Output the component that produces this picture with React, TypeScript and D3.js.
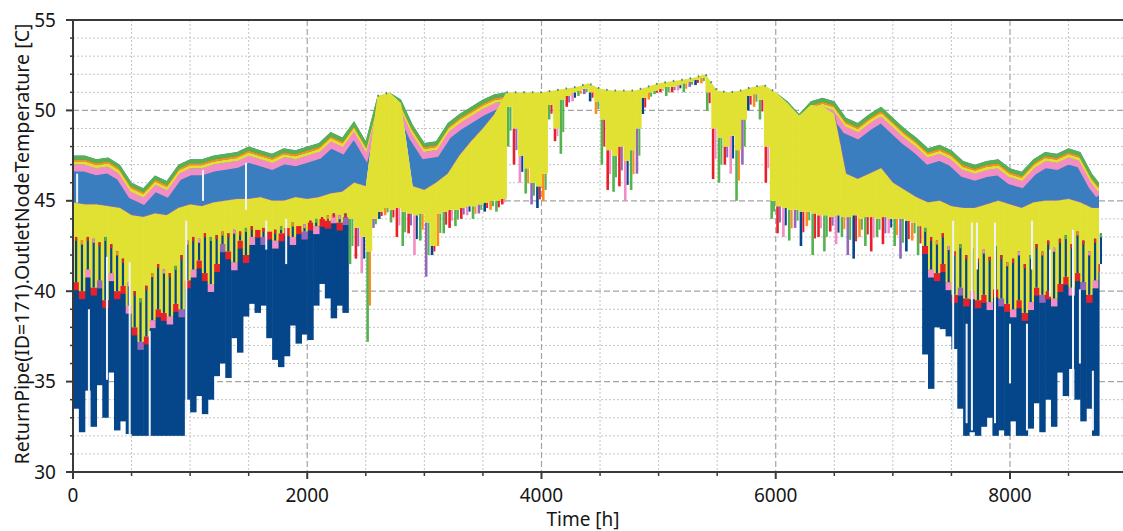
import React from 'react';
import * as d3 from 'd3';

// ---------------- data ----------------
const hours100 = [...d3.range(0, 8800, 100), 8760];
const topMax = [
  47.5, 47.5, 47.3, 47.4, 47.0, 46.0, 45.7, 46.4, 46.1, 47.0,
  47.3, 47.3, 47.5, 47.6, 47.7, 48.0, 47.8, 47.6, 47.9, 47.8,
  48.0, 48.2, 48.8, 48.5, 49.4, 48.3, 50.8, 51.0, 50.6, 49.2,
  48.2, 48.3, 49.3, 49.8, 50.2, 50.6, 50.9, 51.0, 51.0, 51.0,
  51.0, 51.1, 51.2, 51.3, 51.5, 51.2, 51.1, 51.1, 51.1, 51.3,
  51.5, 51.6, 51.7, 51.8, 52.0, 51.1, 51.0, 51.1, 51.3, 51.4,
  51.0, 50.5, 49.8, 50.5, 50.7, 50.5, 49.6, 49.3, 49.8, 50.2,
  49.6, 49.0, 48.5, 47.9, 48.1, 47.8, 47.2, 47.0, 47.2, 47.3,
  46.8, 46.6, 47.3, 47.7, 47.6, 47.9, 47.7, 46.5, 46.0,
];
const yellowTop = [
  44.9, 44.8, 44.8, 44.7, 44.6, 44.2, 44.1, 44.3, 44.2, 44.6,
  44.8, 44.7, 44.9, 45.0, 45.1, 45.1, 45.2, 45.0, 45.0, 45.2,
  45.1, 45.2, 45.4, 45.5, 46.0, 45.8, 50.8, 51.0, 50.4, 45.8,
  45.6, 46.0, 46.5, 47.5, 48.3, 49.0, 49.8, 51.0, 51.0, 51.0,
  51.0, 51.1, 51.2, 51.3, 51.5, 51.2, 51.1, 51.1, 51.1, 51.3,
  51.5, 51.6, 51.7, 51.8, 52.0, 51.1, 51.0, 51.1, 51.3, 51.4,
  51.0, 50.4, 49.7, 50.3, 50.2, 49.8, 46.5, 46.2, 46.5, 46.8,
  46.0, 45.6, 45.2, 44.9, 45.0, 44.7, 44.6, 44.6, 44.8, 45.0,
  44.8, 44.6, 44.9, 45.0, 45.0, 45.1, 44.9, 44.6, 44.6,
];

const hours50 = d3.range(0, 8800, 50);
const yellowBottom = [
  40.5, 40.0, 41.2, 40.2, 40.6, 39.5, 41.0, 40.0, 40.3, 39.2, 38.0, 37.2, 37.5, 38.4, 39.0, 38.8, 38.6, 39.3, 39.0, 40.6,
  41.2, 41.7, 41.0, 40.4, 41.5, 42.6, 42.2, 41.6, 42.8, 42.0, 43.0, 43.4, 43.0, 43.3, 42.8, 43.2, 43.5, 43.0, 43.6, 43.3,
  43.8, 43.6, 44.0, 43.9, 44.2, 43.8, 44.1, 44.0, 43.5, 43.0, 42.2, 44.0, 44.4, 44.6, 44.5, 44.6, 44.4, 44.3, 44.2, 44.3,
  43.8, 42.5, 44.3, 44.4, 44.5, 44.5, 44.6, 44.7, 44.7, 44.8, 44.9, 45.0, 45.0, 45.1, 50.2, 49.0, 47.5, 46.8, 46.0, 45.8,
  46.5, 50.3, 49.0, 50.6, 50.8, 51.0, 51.1, 51.2, 51.0, 50.5, 49.5, 47.8, 47.5, 48.0, 47.2, 47.8, 49.0, 50.7, 51.0, 51.1,
  51.2, 51.3, 51.3, 51.4, 51.5, 51.6, 51.7, 51.8, 51.0, 49.0, 48.5, 48.0, 48.6, 47.8, 49.5, 50.8, 50.9, 50.6, 48.0, 45.0,
  44.7, 44.6, 44.5, 44.5, 44.4, 44.4, 44.3, 44.2, 44.2, 44.1, 44.2, 44.1, 44.1, 44.2, 44.0, 44.1, 44.1, 44.0, 44.1, 44.0,
  44.0, 44.0, 43.9, 43.8, 43.6, 42.5, 41.2, 41.0, 41.5, 40.5, 39.8, 40.2, 39.6, 40.0, 39.5, 39.8, 39.4, 40.1, 39.6, 39.3,
  39.0, 39.5, 38.8, 39.4, 40.2, 39.8, 40.0, 39.6, 40.4, 40.8, 40.2, 41.0, 40.5, 39.8, 40.6, 41.5,
];

const blueLowHours = [...d3.range(0, 2350, 50), ...d3.range(7250, 8800, 50)];
const blueLow = [
  33.5, 32.2, 34.5, 32.5, 34.8, 33.0, 35.5, 32.3, 32.8, 32.1,
  32.0, 32.0, 32.0, 32.0, 32.0, 32.0, 32.0, 32.0, 32.0, 34.0,
  33.3, 34.2, 33.2, 34.0, 35.3, 36.0, 35.2, 37.4, 36.6, 38.6,
  39.3, 38.8, 39.2, 37.4, 36.2, 35.8, 36.4, 38.1, 37.1, 37.6,
  37.3, 39.2, 40.4, 39.6, 38.5, 39.2, 38.8,
  36.5, 34.6, 38.0, 37.9, 37.5, 36.8, 33.5, 32.0, 32.2, 32.0,
  32.5, 33.0, 32.0, 32.3, 32.0, 32.8, 32.0, 32.0, 32.4, 33.8,
  32.2, 34.0, 32.5, 35.5, 34.2, 35.7, 34.0, 32.8, 33.5, 32.0, 32.0,
];
// tops of the dark-blue streaks that rise into the yellow band in winter
const streakTop = [
  43.0, 42.8, 43.0, 42.9, 42.7, 43.0, 42.6, 42.2, 41.8, 40.5,
  40.0, 39.6, 40.3, 41.0, 41.5, 41.2, 41.0, 41.4, 42.0, 42.8,
  43.0, 42.9, 43.2, 43.0, 43.1, 43.3, 43.2, 43.4, 43.3, 43.5,
  43.6, 43.4, 43.5, 43.2, 43.4, 43.6, 43.5, 43.8, 43.6, 43.7,
  43.9, 44.0, 44.1, 44.2, 44.3, 44.2, 44.3,
  43.5, 43.0, 42.8, 43.2, 42.5, 42.2, 42.6, 42.0, 42.4, 41.8,
  42.3, 41.9, 42.5, 42.0, 41.6, 41.8, 42.2, 41.5, 42.0, 42.6,
  42.2, 42.8, 42.4, 42.9, 43.1, 42.6, 43.3, 42.8, 42.2, 42.9, 43.2,
];

const spikeHours = d3.range(2350, 7250, 50);
const spikeLow = [
  41.5, 41.8, 41.0, 37.2, 43.5, 44.0, 44.2, 43.8, 43.0, 42.5,
  43.2, 42.0, 42.8, 40.8, 42.0, 42.5, 43.2, 43.5, 43.6, 44.0,
  44.2, 44.0, 44.3, 44.4, 44.5, 44.4, 44.8, 48.0, 47.0, 46.0,
  45.4, 44.8, 44.6, 45.0, 49.5, 48.3, 47.6, 50.2, 50.5, 50.8,
  50.9, 50.5, 49.8, 47.0, 45.6, 45.5, 45.8, 45.0, 45.6, 46.5,
  49.8, 50.6, 50.9, 51.0, 50.8, 51.0, 51.1, 51.0, 51.3, 51.4,
  51.5, 50.0, 46.2, 46.0, 47.0, 46.5, 45.0, 47.0, 50.0, 50.2,
  49.5, 46.0, 44.0, 43.2, 43.0, 42.8, 43.5, 42.5, 43.6, 42.0,
  43.0, 42.2, 43.3, 42.6, 43.0, 42.0, 41.8, 43.0, 42.5, 42.2,
  43.0, 42.6, 43.2, 42.5, 41.8, 42.2, 42.8, 42.0,
];

const lightT = [35, 136, 290, 484, 655, 967, 1110, 1477, 1650, 1820, 7515, 7630, 7675, 7718, 7872, 8000, 8145, 8188, 8342, 8538, 8597, 8708];
const lightLo = [44.9, 32.5, 35.1, 32.0, 32.0, 32.9, 45.0, 44.5, 42.3, 41.5, 32.9, 32.7, 32.3, 41.2, 32.7, 34.9, 32.3, 41.2, 39.7, 34.2, 36.0, 32.3];
const lightHi = [46.5, 39.0, 41.9, 41.6, 37.8, 43.9, 46.7, 47.1, 43.9, 44.0, 43.9, 38.2, 43.8, 43.8, 43.8, 38.2, 38.2, 43.9, 42.3, 43.4, 40.1, 35.6];

const xTicks = [0, 2000, 4000, 6000, 8000];
const yTicks = [30, 35, 40, 45, 50, 55];
const xTitle = 'Time [h]';
const yTitle = 'ReturnPipe(ID=171).OutletNodeTemperature [C]';

// ---------------- styles ----------------
const W = 1123;
const H = 531;
const PL = 73, PR = 1123, PT = 20, PB = 472;
const C = {
  navy: '#05468a',
  steel: '#3b7ec0',
  yellow: '#e1e133',
  pink: '#f28dc6',
  red: '#e8202a',
  orange: '#ff8c1a',
  green: '#55b24f',
  purple: '#9467bd',
  light: '#eef3fa',
};
const spikeColors = [C.green, C.red, C.pink, C.green, C.purple, C.navy, C.orange, C.green, C.red];
const bandColors = [C.red, C.red, C.pink, C.red, C.purple, C.red, C.pink];
const tipColors = [C.red, C.orange, C.red, C.pink, C.red, C.green];
const FONT = '"Noto Sans", "Open Sans", sans-serif';
const END = 8760;

export default function App() {
  const x = d3.scaleLinear().domain([0, 8965]).range([PL, PR]);
  const y = d3.scaleLinear().domain([30, 55]).range([PB, PT]);

  const idx50 = new Map(hours50.map((t, i) => [t, i]));
  const xEnd = (t: number) => x(Math.min(t + 50, END)) + 0.6;

  const steelArea = d3
    .area<number>()
    .x((_, i) => x(hours100[i]))
    .y0((_, i) => y(yellowTop[i]))
    .y1((_, i) => y(topMax[i]));
  const yellowClip = d3
    .area<number>()
    .x((_, i) => x(hours100[i]))
    .y0(PB + 5)
    .y1((_, i) => y(yellowTop[i]));
  const topLine = d3
    .line<number>()
    .x((_, i) => x(hours100[i]))
    .y((_, i) => y(topMax[i]));
  const yTopLine = d3
    .line<number>()
    .defined((_, i) => topMax[i] - yellowTop[i] > 0.6)
    .x((_, i) => x(hours100[i]))
    .y((_, i) => y(yellowTop[i]));
  const summerTop = d3
    .line<number>()
    .defined((_, i) => topMax[i] - yellowTop[i] < 0.05)
    .x((_, i) => x(hours100[i]))
    .y((_, i) => y(topMax[i]));

  const minorX = d3.range(500, 9000, 500).filter((v) => v % 2000 !== 0 && x(v) <= PR);
  const minorY = d3.range(31, 55, 1).filter((v) => v % 5 !== 0);

  const bands = [
    { c: C.pink, w: 7, dy: 12.5 },
    { c: C.yellow, w: 3, dy: 7.5 },
    { c: C.orange, w: 2, dy: 5 },
    { c: C.green, w: 4, dy: 2 },
  ];

  return (
    <svg
      width={W}
      height={H}
      style={{ position: 'absolute', left: 0, top: 0, display: 'block', background: '#fff' }}
      fontFamily={FONT}
    >
      <defs>
        <clipPath id="plot">
          <rect x={PL} y={PT} width={PR - PL} height={PB - PT} />
        </clipPath>
        <clipPath id="steel">
          <path d={steelArea(topMax) || ''} />
        </clipPath>
        <clipPath id="yel">
          <path d={yellowClip(yellowTop) || ''} />
        </clipPath>
      </defs>

      {/* grid */}
      <g>
        {minorX.map((v) => (
          <line key={'mx' + v} x1={x(v)} x2={x(v)} y1={PT} y2={PB} stroke="#c4c4c4" strokeWidth={1} strokeDasharray="2,2" />
        ))}
        {minorY.map((v) => (
          <line key={'my' + v} x1={PL} x2={PR} y1={y(v)} y2={y(v)} stroke="#c4c4c4" strokeWidth={1} strokeDasharray="2,2" />
        ))}
        {xTicks.slice(1).map((v) => (
          <line key={'gx' + v} x1={x(v)} x2={x(v)} y1={PT} y2={PB} stroke="#a4a4a4" strokeWidth={1.2} strokeDasharray="6,3" />
        ))}
        {yTicks.slice(1, -1).map((v) => (
          <line key={'gy' + v} x1={PL} x2={PR} y1={y(v)} y2={y(v)} stroke="#a4a4a4" strokeWidth={1.2} strokeDasharray="6,3" />
        ))}
      </g>

      <g clipPath="url(#plot)">
        {/* dark blue winter bars */}
        {blueLowHours.map((t, j) => {
          const i = idx50.get(t)!;
          const top = y(yellowBottom[i]);
          return (
            <rect key={'db' + t} x={x(t)} width={xEnd(t) - x(t)} y={top} height={Math.max(0, y(blueLow[j]) - top)} fill={C.navy} />
          );
        })}
        {/* red transition band */}
        {blueLowHours.map((t, j) => {
          const i = idx50.get(t)!;
          return (
            <rect key={'rb' + t} x={x(t)} width={xEnd(t) - x(t)} y={y(yellowBottom[i])} height={8} fill={bandColors[j % bandColors.length]} />
          );
        })}
        {/* summer spikes */}
        {spikeHours.map((t, j) => {
          const i = idx50.get(t)!;
          const a = y(yellowBottom[i]);
          const b = y(spikeLow[j]);
          return (
            <g key={'sp' + t}>
              <rect x={x(t) + 0.5} width={2.6} y={Math.min(a, b)} height={Math.abs(b - a)} fill={spikeColors[j % spikeColors.length]} />
              <rect x={x(t) + 3.2} width={2} y={Math.min(a, b)} height={Math.abs(b - a) * 0.6} fill={spikeColors[(j + 3) % spikeColors.length]} />
            </g>
          );
        })}
        {/* steel blue */}
        <path d={steelArea(topMax) || ''} fill={C.steel} />
        <g clipPath="url(#steel)">
          {bands.map((b) => (
            <path key={b.c + b.dy} d={topLine(topMax) || ''} transform={`translate(0,${b.dy})`} fill="none" stroke={b.c} strokeWidth={b.w} />
          ))}
        </g>
        <path d={yTopLine(yellowTop) || ''} fill="none" stroke={C.purple} strokeWidth={1.3} />
        {/* yellow */}
        <g clipPath="url(#yel)">
          {hours50.map((t, i) => (
            <rect key={'y' + t} x={x(t)} width={xEnd(t) - x(t)} y={PT - 5} height={Math.max(0, y(yellowBottom[i]) - PT + 5)} fill={C.yellow} />
          ))}
        </g>
        {/* dark blue streaks rising into the yellow band */}
        {blueLowHours.map((t, j) => {
          const i = idx50.get(t)!;
          const a = y(yellowBottom[i]);
          const b = y(streakTop[j]);
          if (b >= a) return null;
          return (
            <g key={'st' + t}>
              <rect x={x(t) + 2} width={2.2} y={b} height={a - b} fill={C.navy} />
              <rect x={x(t) + 2} width={2.2} y={b} height={4} fill={tipColors[j % tipColors.length]} />
            </g>
          );
        })}
        {/* summer crest dots */}
        <path d={summerTop(topMax) || ''} fill="none" stroke={C.steel} strokeWidth={2} strokeDasharray="1.5,7" />
        {/* light lines */}
        {lightT.map((t, k) => (
          <line key={'l' + k} x1={x(t)} x2={x(t)} y1={y(lightLo[k])} y2={y(lightHi[k])} stroke={C.light} strokeWidth={2} />
        ))}
      </g>

      {/* axes */}
      <g stroke="#3a3a3a">
        <line x1={PL} x2={PL} y1={PT} y2={PB} strokeWidth={2} />
        <line x1={PL - 7} x2={PR} y1={PT} y2={PT} strokeWidth={2} />
        <line x1={PL - 7} x2={PR} y1={PB} y2={PB} strokeWidth={2} />
        {yTicks.map((v) => (
          <line key={'yt' + v} x1={PL - 7} x2={PL} y1={y(v)} y2={y(v)} strokeWidth={2} />
        ))}
        {minorY.map((v) => (
          <line key={'ymt' + v} x1={PL - 3} x2={PL + 1} y1={y(v)} y2={y(v)} strokeWidth={1.5} />
        ))}
        {xTicks.map((v) => (
          <line key={'xt' + v} x1={x(v)} x2={x(v)} y1={PB} y2={PB + 7} strokeWidth={2} />
        ))}
        {minorX.map((v) => (
          <line key={'xmt' + v} x1={x(v)} x2={x(v)} y1={PB} y2={PB + 4} strokeWidth={1.5} />
        ))}
      </g>
      <g fill="#161616" fontSize={19}>
        {yTicks.map((v) => (
          <text key={'yl' + v} x={PL - 17} y={y(v)} dy="0.35em" textAnchor="end">
            {v}
          </text>
        ))}
        {xTicks.map((v) => (
          <text key={'xl' + v} x={x(v)} y={502} textAnchor="middle">
            {v}
          </text>
        ))}
        <text x={583} y={526} textAnchor="middle">
          {xTitle}
        </text>
        <text transform="translate(29,244) rotate(-90)" textAnchor="middle" fontSize={19.6}>
          {yTitle}
        </text>
      </g>
    </svg>
  );
}
